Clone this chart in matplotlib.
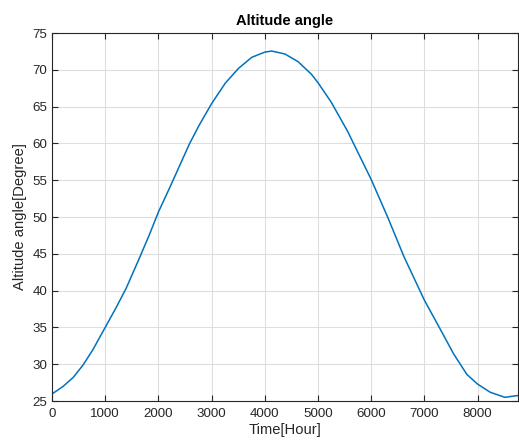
import matplotlib
matplotlib.use('Agg')
import matplotlib.pyplot as plt

plt.rcParams['font.family'] = ['Liberation Sans', 'DejaVu Sans']

# values
hours = [0, 211, 398, 585, 771, 1000, 1206, 1393, 1642, 1828, 2002, 2201,
         2357, 2588, 2761, 3000, 3259, 3507, 3756, 4000, 4129, 4378, 4627,
         4876, 5000, 5249, 5560, 5715, 6000, 6306, 6617, 7000, 7239, 7550,
         7800, 8000, 8234, 8513, 8760]
altitude = [25.95, 27.0, 28.2, 29.9, 32.0, 35.0, 37.7, 40.3, 44.4, 47.55,
            50.7, 53.8, 56.3, 60.0, 62.4, 65.4, 68.2, 70.2, 71.7, 72.4,
            72.55, 72.15, 71.1, 69.4, 68.25, 65.6, 61.6, 59.3, 55.1, 50.05,
            44.6, 38.7, 35.55, 31.4, 28.6, 27.3, 26.2, 25.5, 25.75]

xticks = [0, 1000, 2000, 3000, 4000, 5000, 6000, 7000, 8000]
yticks = [25, 30, 35, 40, 45, 50, 55, 60, 65, 70, 75]

DARK = '#262626'

fig = plt.figure(figsize=(5.19, 4.47), dpi=100)
ax = fig.add_axes([52 / 519, 46 / 447, 466 / 519, 368 / 447])

ax.plot(hours, altitude, color='#0072BD', linewidth=1.1)

ax.set_xlim(0, 8760)
ax.set_ylim(25, 75)
ax.set_xticks(xticks)
ax.set_yticks(yticks)
ax.grid(True, color='#dedede', linewidth=0.8)
ax.set_axisbelow(True)

ax.tick_params(direction='in', length=4, width=0.8, top=True, right=True,
               colors=DARK, labelsize=9.6, labelcolor=DARK)
ax.tick_params(axis='x', pad=5)
for s in ax.spines.values():
    s.set_color(DARK)
    s.set_linewidth(0.8)

ax.set_xlabel('Time[Hour]', fontsize=10.6, color=DARK, labelpad=2)
ax.set_ylabel('Altitude angle[Degree]', fontsize=10.6, color=DARK, labelpad=4)
ax.set_title('Altitude angle', fontsize=10.6, fontweight='bold', color='black', pad=6)

fig.savefig('out.png', dpi=100)
